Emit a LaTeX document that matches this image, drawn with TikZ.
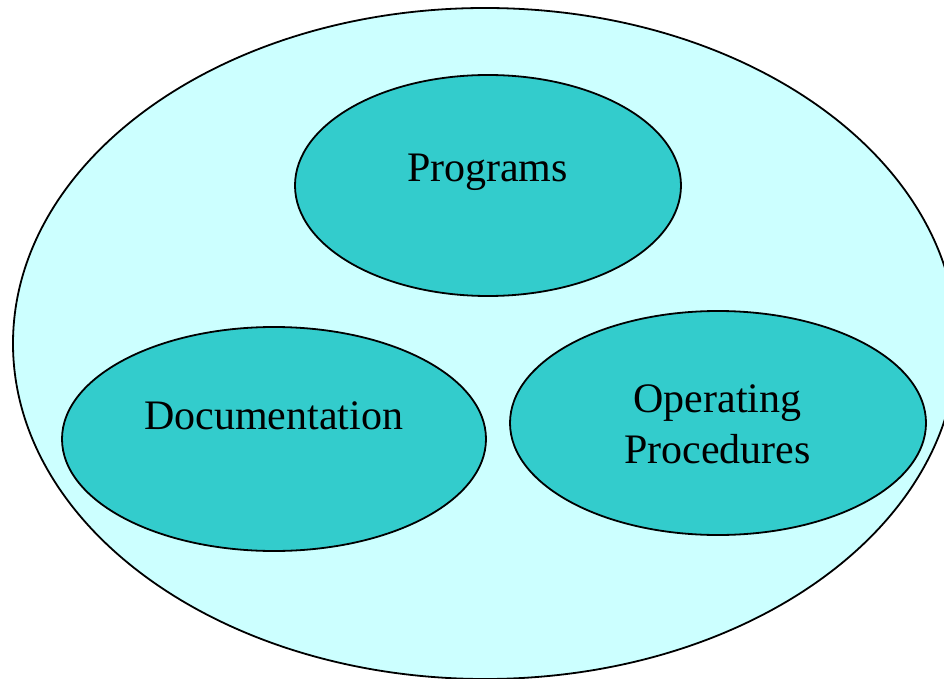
\documentclass[tikz,border=0pt]{standalone}
\usepackage{fontspec}
\setmainfont{Liberation Serif}
\usetikzlibrary{shapes.geometric}

\definecolor{palecyan}{RGB}{204,255,255}
\definecolor{tealfill}{RGB}{51,204,204}

\begin{document}
\begin{tikzpicture}[x=1pt,y=-1pt]
  \tikzstyle{blob}=[ellipse,draw=black,line width=1.8pt,inner sep=0pt]
  \tikzstyle{word}=[font=\fontsize{42}{51}\selectfont,anchor=base,align=center,inner sep=0pt]

  \useasboundingbox (0,0) rectangle (944,679);
  \clip (0,0) rectangle (944,679);

  \node[blob,fill=palecyan,minimum width=944pt,minimum height=671pt] (system) at (485,343.5) {};

  \node[blob,fill=tealfill,minimum width=386pt,minimum height=221pt] (programs) at (488,185.5) {};
  \node[blob,fill=tealfill,minimum width=424pt,minimum height=224pt] (docs) at (274,439) {};
  \node[blob,fill=tealfill,minimum width=416pt,minimum height=224pt] (procs) at (718,423) {};

  \node[word] (programs text) at (487.5,182) {Programs};
  \node[word] (docs text) at (273.5,429) {Documentation};
  \node[word] (procs text) at (717.5,463) {Operating\\Procedures};
\end{tikzpicture}
\end{document}
